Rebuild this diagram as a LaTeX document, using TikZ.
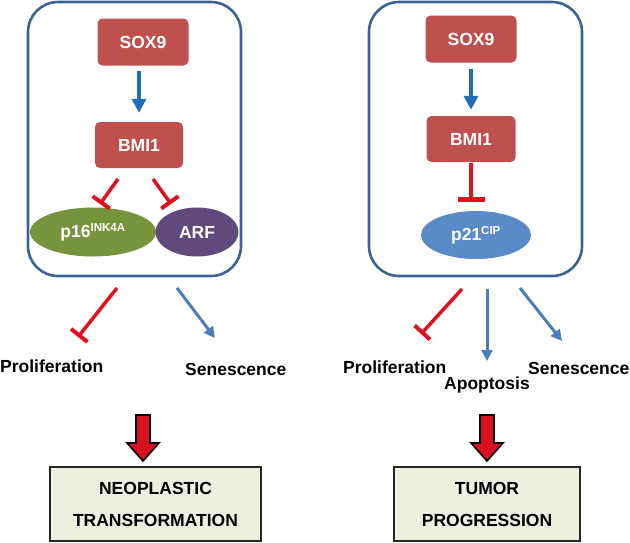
\documentclass[tikz,border=0pt]{standalone}
\usepackage{fontspec}
\setmainfont{Liberation Sans}
\usetikzlibrary{arrows.meta,shapes.geometric}
\definecolor{boxred}{HTML}{C0504D}
\definecolor{framebl}{HTML}{3A6593}
\definecolor{arrbl}{HTML}{1F6DB5}
\definecolor{arrbl2}{HTML}{4A7EBB}
\definecolor{inhred}{HTML}{E0111F}
\definecolor{pgreen}{HTML}{77933C}
\definecolor{ppurple}{HTML}{5F4A7B}
\definecolor{pblue}{HTML}{5A8AC8}
\definecolor{outfill}{HTML}{EBF1DE}
\definecolor{bigred}{HTML}{DA1020}
\begin{document}
\begin{tikzpicture}[x=1pt,y=-1pt,
  font=\fontsize{17.5}{20}\selectfont\bfseries,
  frame/.style={draw=framebl,line width=2.6pt,rounded corners=30pt},
  genebox/.style={fill=boxred,text=white,rounded corners=5pt,minimum width=91pt,minimum height=47pt,inner sep=0pt},
  prot/.style={ellipse,text=white,inner sep=0pt},
  actarrow/.style={draw=arrbl,line width=4.5pt,-{Triangle[width=14pt,length=14pt]}},
  actarrow2/.style={draw=arrbl2,line width=3pt,-{Triangle[width=11pt,length=11pt]}},
  inhib/.style={draw=inhred,line width=3.5pt,-{Bar[width=21pt,line width=4pt]}},
  label/.style={text=black,inner sep=0pt},
  outbox/.style={draw=black!85,line width=1.8pt,fill=outfill,minimum height=74pt,inner sep=0pt,align=center,font=\fontsize{17.5}{32}\selectfont\bfseries},
  bigarrow/.style={draw=black,line width=1.6pt,fill=bigred,line join=miter}
]
\useasboundingbox (0,0) rectangle (630,542);

% ---------- left panel ----------
\draw[frame] (28,2) rectangle (241,276);
\node[genebox] (soxL) at (143,42) {SOX9};
\node[genebox,minimum width=88pt,minimum height=46pt] (bmiL) at (139,145) {BMI1};
\node[prot,fill=pgreen,minimum width=126pt,minimum height=49pt] (p16) at (93,232) {p16\textsuperscript{\fontsize{11.5}{12}\selectfont INK4A}};
\node[prot,fill=ppurple,minimum width=83pt,minimum height=49pt] (arf) at (197,232) {ARF};
\draw[actarrow,shorten <=5pt,shorten >=9pt] (soxL.south -| bmiL.north) -- (bmiL.north);
\coordinate (iL1s) at (118,179); \coordinate (iL1e) at (100,204);
\coordinate (iL2s) at (153,179); \coordinate (iL2e) at (171,204);
\draw[inhib] (iL1s) -- (iL1e);
\draw[inhib] (iL2s) -- (iL2e);

\coordinate (oL1s) at (117,288); \coordinate (oL1e) at (78,337);
\coordinate (oL2s) at (177,288); \coordinate (oL2e) at (215,338);
\draw[inhib] (oL1s) -- (oL1e);
\draw[actarrow2] (oL2s) -- (oL2e);
\node[label,anchor=west] (proL) at (0,366) {Proliferation};
\node[label,anchor=west] (senL) at (185,369) {Senescence};

\draw[bigarrow] (136,415) -- (150,415) -- (150,443) -- (159,443) -- (143,461) -- (127,443) -- (136,443) -- cycle;
\node[outbox,minimum width=211pt] (neo) at (155.5,504) {NEOPLASTIC\\TRANSFORMATION};

% ---------- right panel ----------
\draw[frame] (369,2) rectangle (582,276);
\node[genebox] (soxR) at (471,39) {SOX9};
\node[genebox,minimum width=89pt,minimum height=46pt] (bmiR) at (471,139) {BMI1};
\node[prot,fill=pblue,minimum width=110pt,minimum height=48pt] (p21) at (476,235) {p21\textsuperscript{\fontsize{11.5}{12}\selectfont CIP}};
\draw[actarrow,shorten <=6pt,shorten >=6pt] (soxR) -- (bmiR);
\coordinate (iRs) at (471,163); \coordinate (iRe) at (471,202);
\draw[inhib,-{Bar[width=27pt,line width=5pt]}] (iRs) -- (iRe);

\coordinate (oR1s) at (462,289); \coordinate (oR1e) at (421,334);
\coordinate (oR2s) at (487,289); \coordinate (oR2e) at (487,361);
\coordinate (oR3s) at (520,288); \coordinate (oR3e) at (562,341);
\draw[inhib] (oR1s) -- (oR1e);
\draw[actarrow2] (oR2s) -- (oR2e);
\draw[actarrow2] (oR3s) -- (oR3e);
\node[label,anchor=west] (proR) at (343,367) {Proliferation};
\node[label,anchor=west] (apoR) at (444,385) {Apoptosis};
\node[label,anchor=west] (senR) at (528,368) {Senescence};

\draw[bigarrow] (480,415) -- (494,415) -- (494,443) -- (503,443) -- (487,461) -- (471,443) -- (480,443) -- cycle;
\node[outbox,minimum width=186pt] (tum) at (487,504) {TUMOR\\PROGRESSION};
\end{tikzpicture}
\end{document}
